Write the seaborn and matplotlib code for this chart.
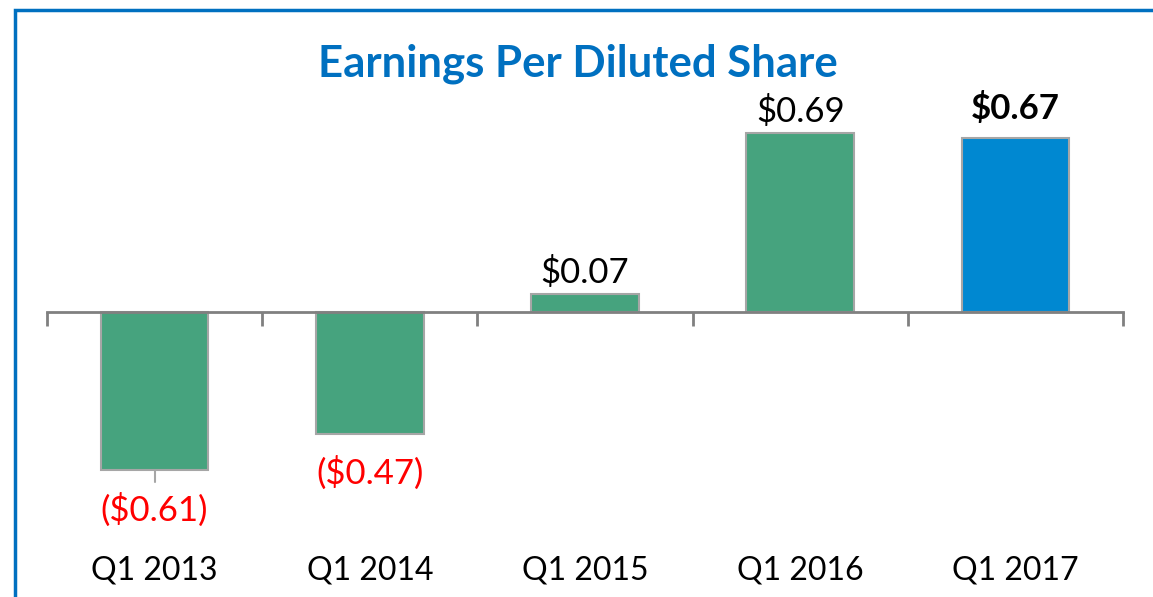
import matplotlib
matplotlib.use("Agg")
import matplotlib.pyplot as plt
from matplotlib.patches import Rectangle
import seaborn as sns
import pandas as pd

# data
quarters = ["Q1 2013", "Q1 2014", "Q1 2015", "Q1 2016", "Q1 2017"]
eps = [-0.61, -0.47, 0.07, 0.69, 0.67]
value_labels = ["($0.61)", "($0.47)", "$0.07", "$0.69", "$0.67"]

GREEN = "#46A37E"
BLUE = "#0088D1"
bar_colors = [GREEN, GREEN, GREEN, GREEN, BLUE]

sns.set_theme(style="white")
plt.rcParams["font.family"] = ["Lato", "DejaVu Sans"]

df = pd.DataFrame({"quarter": quarters, "eps": eps})

fig = plt.figure(figsize=(11.53, 5.97), dpi=100)
ax = fig.add_axes([47 / 1153, 0, 1076 / 1153, 1])

sns.barplot(data=df, x="quarter", y="eps", hue="quarter", palette=bar_colors,
            legend=False, width=0.5, edgecolor="#A6A6A6", linewidth=1.5,
            saturation=1, ax=ax)

ax.set_xlim(-0.5, len(quarters) - 0.5)
ax.set_ylim(-1.0987, 1.2028)
ax.set_xlabel("")
ax.set_ylabel("")
ax.set_yticks([])
ax.set_xticks([])
for s in ["left", "right", "top"]:
    ax.spines[s].set_visible(False)
ax.spines["bottom"].set_position(("data", 0))
ax.spines["bottom"].set_color("#808080")
ax.spines["bottom"].set_linewidth(2)
ax.set_xticks([i - 0.5 for i in range(len(quarters) + 1)], minor=True)
ax.tick_params(axis="x", which="minor", length=10, width=2, color="#808080",
               direction="out", bottom=True)
ax.patch.set_alpha(0)

# small leader tick under the first bar
ax.plot([0, 0], [eps[0], eps[0] - 0.045], color="#A6A6A6", lw=1.5)

# value labels
last = len(eps) - 1
for i, (v, lab) in enumerate(zip(eps, value_labels)):
    if v < 0:
        ax.annotate(lab, (i, v), xytext=(0, -16), textcoords="offset points",
                    ha="center", va="top", fontsize=25, color="#FF0000")
    else:
        gap = 14 if i == last else 8
        ax.annotate(lab, (i, v), xytext=(0, gap), textcoords="offset points",
                    ha="center", va="baseline", fontsize=25, color="black",
                    fontweight="bold" if i == last else "normal")

# category labels along the bottom
for i, q in enumerate(quarters):
    ax.text(i, 1 - 579 / 597, q, transform=ax.get_xaxis_transform(),
            ha="center", va="baseline", fontsize=23, color="black")

fig.text(578 / 1153, 1 - 76 / 597, "Earnings Per Diluted Share",
         ha="center", va="baseline", fontsize=31.5, fontweight="bold",
         color="#0070C0")

# outer blue frame
fig.patches.append(Rectangle((15 / 1153, -0.1), 1.2, 1 - 10 / 597 + 0.1,
                             transform=fig.transFigure, fill=False,
                             edgecolor="#0070C0", linewidth=2.5))

fig.savefig("out.png", dpi=100)
